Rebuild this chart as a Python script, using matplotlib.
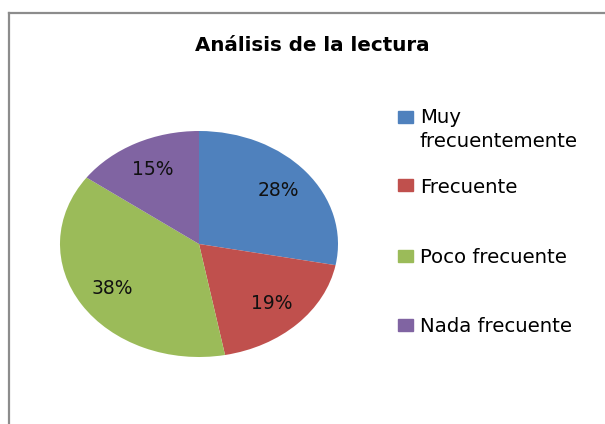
import matplotlib
matplotlib.use("Agg")
import matplotlib.pyplot as plt
from matplotlib.lines import Line2D
from matplotlib.patches import Rectangle

title = "Análisis de la lectura"
categories = ["Muy\nfrecuentemente", "Frecuente", "Poco frecuente", "Nada frecuente"]
values = [28, 19, 38, 15]
colors = ["#4F81BD", "#C0504D", "#9BBB59", "#8064A2"]

W, H = 605, 424
plt.rcParams['font.family'] = ['DejaVu Sans']
fig = plt.figure(figsize=(W / 100, H / 100), dpi=100)

# border (top and left visible)
fig.add_artist(Line2D([9 / W, 1.0], [1 - 13 / H, 1 - 13 / H], color="#8c8c8c", lw=1.6))
fig.add_artist(Line2D([9 / W, 9 / W], [1 - 13 / H, 0.0], color="#8c8c8c", lw=1.6))

fig.text(312 / W, 1 - 51 / H, title, ha="center", va="baseline", fontsize=14.3, fontweight="bold")

ax = fig.add_axes([60 / W, 67 / H, 278 / W, 226 / H])
wedges, texts, autotexts = ax.pie(values, colors=colors, startangle=90, counterclock=False,
                                  autopct='%1.0f%%', pctdistance=0.74,
                                  textprops=dict(fontsize=13.5, color="#111111"))
ax.set_aspect('auto')
ax.set_xlim(-1, 1)
ax.set_ylim(-1, 1)

square_y = [117, 185.5, 256, 325]
baselines = [[123, 147], [193], [263], [332]]
for c, lab, ys, bl in zip(colors, categories, square_y, baselines):
    fig.add_artist(Rectangle((398 / W, 1 - (ys + 6) / H), 15 / W, 12 / H, color=c))
    for line, yb in zip(lab.split("\n"), bl):
        fig.text(420 / W, 1 - yb / H, line, ha="left", va="baseline", fontsize=14.2)

fig.savefig("out.png", dpi=100)
